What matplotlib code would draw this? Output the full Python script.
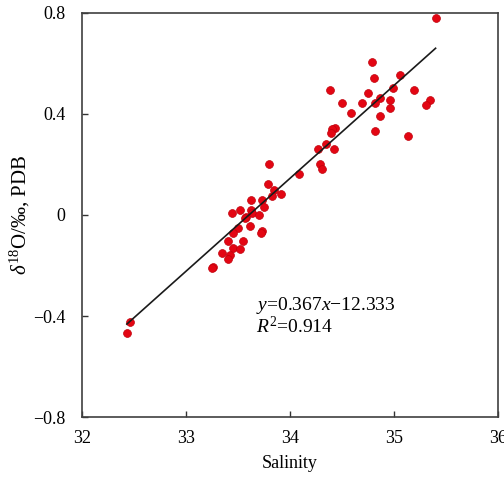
import matplotlib
matplotlib.use("Agg")
import matplotlib.pyplot as plt
import numpy as np

plt.rcParams['font.family'] = ['Liberation Serif', 'DejaVu Serif']
plt.rcParams['mathtext.fontset'] = 'custom'
plt.rcParams['mathtext.rm'] = 'Liberation Serif'
plt.rcParams['mathtext.it'] = 'Liberation Serif:italic'

# Salinity vs d18O
salinity = [35.40, 34.79, 34.81, 35.06, 34.38, 35.19, 34.99, 34.75, 34.50, 34.69,
            34.87, 34.82, 34.96, 35.35, 35.31, 34.59, 34.96, 34.87, 34.82, 35.13,
            34.43, 34.40, 34.39, 34.35, 34.27, 34.42, 34.29, 34.31, 34.09, 33.80,
            33.79, 33.85, 33.91, 33.83, 33.62, 33.73, 33.75, 33.44, 33.52, 33.62,
            33.63, 33.58, 33.70, 33.57, 33.61, 33.50, 33.45, 33.73, 33.72, 33.40,
            33.55, 33.45, 33.52, 33.35, 33.42, 33.40, 33.26, 33.25, 32.46, 32.43]
d18o = [0.777, 0.604, 0.542, 0.554, 0.494, 0.492, 0.503, 0.483, 0.442, 0.442,
        0.461, 0.443, 0.454, 0.453, 0.433, 0.402, 0.421, 0.392, 0.332, 0.312,
        0.343, 0.338, 0.323, 0.280, 0.260, 0.260, 0.200, 0.180, 0.160, 0.200,
        0.121, 0.098, 0.081, 0.075, 0.059, 0.059, 0.032, 0.009, 0.019, 0.019,
        0.006, -0.007, -0.002, -0.013, -0.044, -0.053, -0.073, -0.064, -0.073, -0.102,
        -0.102, -0.132, -0.134, -0.152, -0.159, -0.173, -0.205, -0.211, -0.424, -0.466]

slope = 0.367
intercept = -12.333
r2 = 0.914

x = np.array(salinity)
y = np.array(d18o)

fig = plt.figure(figsize=(5.04, 4.82), dpi=100)
ax = fig.add_axes([0.163, 0.134, 0.825, 0.840])

ax.scatter(x, y, s=32, color='#e30613', edgecolors='#c0000a', linewidths=0.5, zorder=2)

# regression line from the printed equation
xl = np.array([x.min(), x.max()])
ax.plot(xl, slope * xl + intercept, color='#1a1a1a', lw=1.2, zorder=3)

ax.text(33.67, -0.357, r'$y$=0.367$x$$-$12.333', fontsize=14, va='center')
ax.text(33.67, -0.44, r'$R^2$=0.914', fontsize=14, va='center')

ax.set_xlim(32, 36)
ax.set_ylim(-0.8, 0.8)
ax.set_xticks([32, 33, 34, 35, 36])
ax.set_yticks([-0.8, -0.4, 0, 0.4, 0.8])
ax.set_yticklabels(['\u22120.8', '\u22120.4', '0', '0.4', '0.8'])
ax.tick_params(direction='in', length=4, width=1, labelsize=13, colors='#333333',
               labelcolor='black', top=False, right=False)
ax.tick_params(axis='x', pad=9)
ax.tick_params(axis='y', pad=12)
for sp in ax.spines.values():
    sp.set_color('#404040')
    sp.set_linewidth(1.2)

ax.set_xlabel('Salinity', fontsize=13, labelpad=6)
ax.set_ylabel(r'$\delta^{18}$O/‰, PDB', fontsize=15, labelpad=1)

plt.savefig('out.png', dpi=100)
